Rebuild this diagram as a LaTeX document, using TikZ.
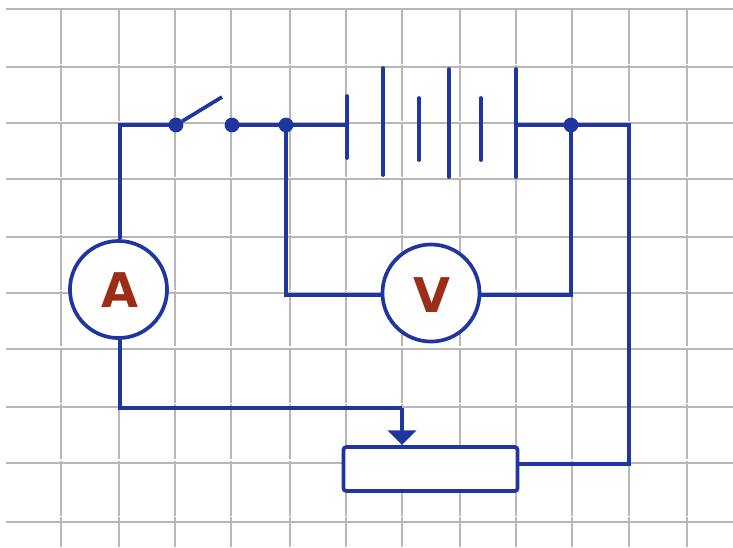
\documentclass[tikz,border=0pt]{standalone}
\usepackage{fontspec}
\setmainfont{DejaVu Sans}
\usetikzlibrary{arrows.meta}
\definecolor{wire}{HTML}{1F35A0}
\definecolor{gridc}{HTML}{B8B8B8}
\definecolor{lab}{HTML}{9C2D17}
\tikzset{
 x=0.01cm,y=-0.01cm,
 gridv/.style={draw=gridc,line width=0.68pt,dash pattern=on 15.7pt off 0.35pt},
 gridh/.style={draw=gridc,line width=0.68pt},
 wireline/.style={draw=wire,line width=1.05pt},
 plate/.style={draw=wire,line width=1.05pt,line cap=round},
 junction/.style={circle,draw=wire,fill=wire,line width=0.3pt,inner sep=0pt,minimum size=3.9pt},
 meter/.style={circle,draw=wire,fill=white,line width=1.05pt,minimum size=27.6pt,inner sep=0pt,
   text=lab,font=\bfseries\fontsize{13.6}{13.6}\selectfont},
 rheostat/.style={rectangle,rounded corners=0.8pt,draw=wire,fill=white,line width=1.05pt,inner sep=0pt,
   minimum width=49.5pt,minimum height=12.5pt},
}
\begin{document}
\begin{tikzpicture}
\useasboundingbox (0,0) rectangle (733,547);
\fill[white] (0,0) rectangle (733,547);
\foreach \y in {9,67,123,179,237,293,349,407,463,522}
  \draw[gridh] (6,\y) -- (733,\y);
\foreach \x in {61,119,175,231,290,346,402,460,516,572,629,687}
  \draw[gridv] (\x,9) -- (\x,547);

\node[meter] (A) at (118.5,289.5) {\hspace{0.6pt}\rule{0pt}{10.4pt}A};
\node[meter] (V) at (431,293) {\hspace{0.6pt}\rule{0pt}{11pt}V};
\node[rheostat] (R) at (430.5,469) {};
\node[junction] (s1) at (176,125) {};
\node[junction] (s2) at (232,125) {};
\node[junction] (j1) at (286,125) {};
\node[junction] (j2) at (571,125) {};
\coordinate (arm) at (222,97);
\coordinate (c1) at (120,125);
\coordinate (c2) at (120,408);
\coordinate (tap) at (402,408);
\coordinate (tapend) at (402,445);
\coordinate (c3) at (629,125);
\coordinate (c4) at (629,464);
\coordinate (c5) at (286,295);
\coordinate (c6) at (571,295);
\coordinate (rr) at (518,464);
\coordinate (p1) at (347,125);
\coordinate (p6) at (516,125);

\draw[wireline] (A.north -| c1) -- (c1) -- (s1);
\draw[wireline] (s1) -- (arm);
\draw[wireline] (s2) -- (j1) -- (p1);
\draw[wireline] (p6) -- (j2) -- (c3) -- (c4) -- (rr);
\draw[wireline] (j1) -- (c5) -- (V.west |- c5);
\draw[wireline] (j2) -- (c6) -- (V.east |- c6);
\draw[wireline] (A.south -| c2) -- (c2) -- (tap);
\draw[wireline,-{Triangle[length=4.2pt,width=8pt]}] (tap) -- (tapend);

\draw[plate] (347,96) -- (347,158);
\draw[plate] (383,68) -- (383,175);
\draw[plate] (419,98) -- (419,160);
\draw[plate] (449,69) -- (449,177);
\draw[plate] (481,98) -- (481,160);
\draw[plate] (516,69) -- (516,177);
\end{tikzpicture}
\end{document}
